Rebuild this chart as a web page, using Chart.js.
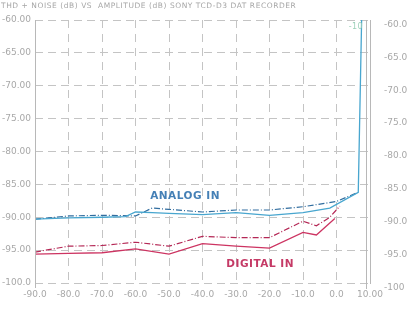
<!DOCTYPE html>
<html>
<head>
<meta charset="utf-8">
<script src="https://cdn.jsdelivr.net/npm/chart.js@4"></script>
<style>
  html, body { margin: 0; padding: 0; background: #fff; }
  #wrap { width: 413px; height: 309px; }
</style>
</head>
<body>
<div id="wrap"><canvas id="thdChart" width="413" height="309"></canvas></div>
<script>
// amplitude (dB) on x, THD+N (dB) on y
const analogSolidAmp = [-90, -80, -70, -63, -60, -55, -50, -40, -30, -20, -10, -2, 6.5, 7.5];
const analogSolidThd = [-90.3, -90.1, -90.0, -89.9, -89.2, -89.3, -89.4, -89.6, -89.3, -89.7, -89.3, -88.6, -86.2, -60];
const analogDashAmp = [-90, -80, -70, -60, -55, -50, -40, -30, -20, -10, 0, 6];
const analogDashThd = [-90.3, -89.8, -89.7, -89.8, -88.6, -88.8, -89.2, -88.9, -88.9, -88.4, -87.6, -86.3];
const digitalSolidAmp = [-90, -80, -70, -60, -50, -40, -30, -20, -10, -6, -0.5];
const digitalSolidThd = [-95.6, -95.5, -95.4, -94.8, -95.6, -94.0, -94.4, -94.7, -92.3, -92.7, -90.2];
const digitalDashAmp = [-90, -80, -70, -60, -50, -40, -30, -20, -10, -6, -2, 1];
const digitalDashThd = [-95.3, -94.4, -94.3, -93.8, -94.4, -92.9, -93.1, -93.1, -90.6, -91.3, -90.0, -88.3];

const xTickLabels = ['-90.0', '-80.0', '-70.0', '-60.0', '-50.0', '-40.0', '-30.0', '-20.0', '-10.0', '0.0', '10.00'];
const leftTickLabels = ['-100.0', '-95.00', '-90.00', '-85.00', '-80.00', '-75.00', '-70.00', '-65.00', '-60.00'];
const rightTickLabels = ['-100', '-95.0', '-90.0', '-85.0', '-80.0', '-75.0', '-70.0', '-65.0', '-60.0'];

const chartTitle = 'THD + NOISE (dB) VS  AMPLITUDE (dB) SONY TCD-D3 DAT RECORDER';
const labelTexts = ['ANALOG IN', 'DIGITAL IN', '-10'];
const labelAmp = [-45.2, -22.8, 5.8];
const labelThd = [-86.8, -97.1, -61.1];

function pts(xs, ys) {
  return xs.map((x, i) => ({ x: x, y: ys[i] }));
}

const tickFont = { family: 'DejaVu Sans', size: 9 };
const tickColor = '#a8a8a8';
const gridColor = '#c4c4c4';

const textPlugin = {
  id: 'texts',
  afterDraw(chart) {
    const c = chart.ctx;
    const xs = chart.scales.x, ys = chart.scales.y;
    const area = chart.chartArea;
    c.save();
    c.font = '7.5px "DejaVu Sans"';
    c.fillStyle = '#a6a6a6';
    c.textBaseline = 'middle';
    c.letterSpacing = '0.55px';
    c.fillText(chartTitle, 1, 6);
    c.letterSpacing = '0.5px';
    const colors = ['#4580b6', '#c53a66', '#9cd0b8'];
    const fonts = ['bold 10.5px "DejaVu Sans"', 'bold 10.5px "DejaVu Sans"', '8px "DejaVu Sans"'];
    c.textAlign = 'center';
    labelTexts.forEach((t, i) => {
      c.font = fonts[i];
      c.fillStyle = colors[i];
      c.fillText(t, xs.getPixelForValue(labelAmp[i]), ys.getPixelForValue(labelThd[i]));
    });
    // solid left axis line and second vertical rule on the right
    c.strokeStyle = '#b8b8b8';
    c.lineWidth = 1;
    c.beginPath();
    c.moveTo(Math.round(area.left) + 0.5, area.top);
    c.lineTo(Math.round(area.left) + 0.5, area.bottom + 5);
    c.moveTo(Math.round(area.right) - 3.5, area.top);
    c.lineTo(Math.round(area.right) - 3.5, area.bottom + 6);
    c.stroke();
    c.restore();
  }
};

new Chart(document.getElementById('thdChart'), {
  type: 'line',
  data: {
    datasets: [
      { label: 'Analog', data: pts(analogSolidAmp, analogSolidThd), borderColor: '#48a6cf', borderWidth: 1.3 },
      { label: 'Analog dash', data: pts(analogDashAmp, analogDashThd), borderColor: '#316d9f', borderWidth: 1.2, borderDash: [6, 2, 1, 2] },
      { label: 'Digital', data: pts(digitalSolidAmp, digitalSolidThd), borderColor: '#cd3462', borderWidth: 1.3 },
      { label: 'Digital dash', data: pts(digitalDashAmp, digitalDashThd), borderColor: '#b42755', borderWidth: 1.2, borderDash: [6, 2, 1, 2] }
    ]
  },
  options: {
    responsive: false,
    animation: false,
    events: [],
    elements: { point: { radius: 0 }, line: { tension: 0, fill: false } },
    layout: { padding: { top: 20, left: 0, right: 0, bottom: 0 } },
    plugins: { legend: { display: false }, tooltip: { enabled: false } },
    scales: {
      x: {
        type: 'linear', min: -90, max: 10,
        afterBuildTicks(s) { s.ticks = xTickLabels.map((_, i) => ({ value: -90 + i * 10 })); },
        afterFit(s) { s.height = 26; },
        ticks: {
          font: tickFont, color: tickColor, maxRotation: 0, padding: 6,
          callback: (v, i) => xTickLabels[i]
        },
        grid: { color: gridColor, lineWidth: 1, drawTicks: false },
        border: { display: false, dash: [8, 6] }
      },
      y: {
        type: 'linear', position: 'left', min: -100, max: -60,
        afterBuildTicks(s) { s.ticks = leftTickLabels.map((_, i) => ({ value: -100 + i * 5 })); },
        afterFit(s) { s.width = 35; },
        ticks: {
          font: tickFont, color: tickColor, padding: 4,
          callback: (v, i) => leftTickLabels[i]
        },
        grid: { color: gridColor, lineWidth: 1, drawTicks: false },
        border: { display: false, dash: [8, 5] }
      },
      y2: {
        type: 'linear', position: 'right', min: -100, max: -60,
        afterBuildTicks(s) { s.ticks = rightTickLabels.map((_, i) => ({ value: -100 + i * 5 })); },
        afterFit(s) { s.width = 43; },
        ticks: {
          font: tickFont, color: tickColor, padding: 6, align: 'start',
          callback: (v, i) => rightTickLabels[i]
        },
        grid: { display: false },
        border: { display: true, color: '#b8b8b8' }
      }
    }
  },
  plugins: [textPlugin]
});
</script>
</body>
</html>
